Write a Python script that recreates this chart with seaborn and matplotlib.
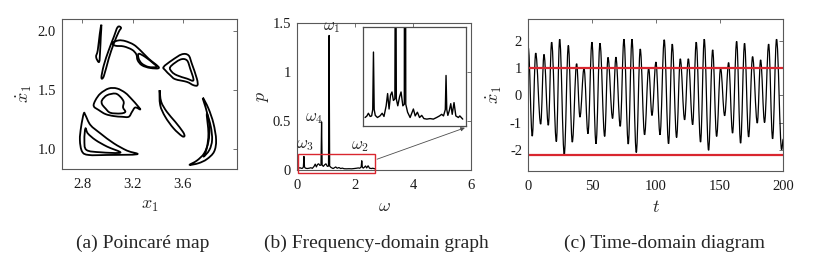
"""
Poincaré map / frequency-domain / time-domain figure
"""
import numpy as np
import pandas as pd
import matplotlib
matplotlib.use("Agg")
import matplotlib.pyplot as plt
import matplotlib.patches as mpatches
from matplotlib.path import Path
import seaborn as sns

# ──────────────────────────────────────────────
# Data
# ──────────────────────────────────────────────
# (a) Poincaré map – closed loops, (x1, x1dot) vertices
loop_sliver = [(2.953, 2.054), (2.940, 1.977), (2.924, 1.837), (2.911, 1.780),
               (2.935, 1.738), (2.943, 1.837), (2.948, 1.949)]
loop_stick = [(3.082, 2.034), (3.109, 2.028), (3.090, 1.992), (3.051, 1.893),
              (3.011, 1.766), (2.972, 1.617), (2.953, 1.606), (2.972, 1.710),
              (3.011, 1.837), (3.051, 1.949)]
loop_feather = [(3.038, 1.899), (3.090, 1.921), (3.143, 1.915), (3.209, 1.885),
                (3.262, 1.837), (3.328, 1.766), (3.410, 1.690), (3.341, 1.687),
                (3.275, 1.710), (3.241, 1.752), (3.230, 1.803), (3.196, 1.842),
                (3.130, 1.870), (3.064, 1.876)]
loop_feather_in = [(3.249, 1.808), (3.302, 1.780), (3.368, 1.724), (3.394, 1.696),
                   (3.328, 1.696), (3.275, 1.724), (3.249, 1.766)]
loop_tri = [(3.447, 1.696), (3.513, 1.752), (3.592, 1.803), (3.645, 1.794),
            (3.671, 1.724), (3.711, 1.597), (3.716, 1.541), (3.684, 1.541),
            (3.632, 1.569), (3.539, 1.592), (3.500, 1.625), (3.460, 1.668)]
loop_tri_in = [(3.500, 1.696), (3.579, 1.758), (3.632, 1.752), (3.658, 1.682),
               (3.684, 1.583), (3.632, 1.597), (3.553, 1.625), (3.513, 1.654)]
loop_mid = [(2.892, 1.363), (2.906, 1.414), (2.945, 1.470), (3.011, 1.513),
            (3.077, 1.513), (3.143, 1.476), (3.196, 1.420), (3.236, 1.372),
            (3.262, 1.335), (3.222, 1.352), (3.196, 1.315), (3.170, 1.273),
            (3.117, 1.273), (3.051, 1.279), (2.985, 1.296), (2.932, 1.330)]
loop_mid_in = [(2.958, 1.414), (2.998, 1.456), (3.064, 1.470), (3.104, 1.442),
               (3.130, 1.400), (3.125, 1.352), (3.143, 1.315), (3.104, 1.301),
               (3.024, 1.307), (2.985, 1.344), (2.958, 1.380)]
loop_corner = [(2.813, 1.301), (2.792, 1.189), (2.782, 1.076), (2.800, 0.977),
               (2.853, 0.949), (2.998, 0.949), (3.236, 0.955), (3.156, 0.986),
               (3.051, 1.048), (2.945, 1.132), (2.866, 1.203), (2.826, 1.287)]
loop_corner_in = [(2.826, 1.175), (2.818, 1.076), (2.834, 0.992), (2.945, 0.972),
                  (3.104, 0.969), (2.998, 1.020), (2.906, 1.076), (2.845, 1.132)]
loop_blade = [(3.415, 1.499), (3.428, 1.400), (3.473, 1.315), (3.539, 1.231),
              (3.600, 1.146), (3.613, 1.110), (3.592, 1.110), (3.526, 1.175),
              (3.460, 1.273), (3.420, 1.372)]
loop_moon = [(3.758, 1.434), (3.803, 1.344), (3.843, 1.217), (3.864, 1.076),
             (3.848, 0.977), (3.790, 0.913), (3.724, 0.879), (3.653, 0.865),
             (3.711, 0.901), (3.769, 0.963), (3.803, 1.062), (3.811, 1.189),
             (3.790, 1.315)]
loop_moon_in = [(3.790, 1.301), (3.822, 1.189), (3.832, 1.076), (3.811, 0.992),
                (3.764, 0.935), (3.790, 1.006), (3.803, 1.132)]
LOOPS = [loop_sliver, loop_stick, loop_feather, loop_feather_in, loop_tri,
         loop_tri_in, loop_mid, loop_mid_in, loop_corner, loop_corner_in,
         loop_blade, loop_moon, loop_moon_in]

# (b) amplitude spectrum
omega = [0.00, 0.05, 0.09, 0.14, 0.18, 0.21, 0.23, 0.25, 0.28, 0.34,
         0.41, 0.47, 0.52, 0.58, 0.62, 0.66, 0.70, 0.74, 0.78, 0.82,
         0.84, 0.86, 0.90, 0.95, 0.99, 1.04, 1.08, 1.10, 1.12, 1.17,
         1.24, 1.33, 1.38, 1.44, 1.50, 1.56, 1.62, 1.70, 1.79, 1.88,
         1.97, 2.05, 2.11, 2.16, 2.21, 2.23, 2.25, 2.28, 2.32, 2.36,
         2.40, 2.45, 2.50, 2.57, 2.61, 2.69]
power = [0.015, 0.018, 0.023, 0.017, 0.018, 0.030, 0.138, 0.030, 0.019, 0.015,
         0.018, 0.023, 0.017, 0.037, 0.060, 0.031, 0.057, 0.063, 0.047, 0.050,
         0.490, 0.050, 0.037, 0.054, 0.063, 0.037, 0.040, 1.370, 0.040, 0.025,
         0.015, 0.031, 0.018, 0.025, 0.015, 0.019, 0.013, 0.012, 0.013, 0.012,
         0.015, 0.018, 0.021, 0.018, 0.030, 0.094, 0.030, 0.019, 0.028, 0.041,
         0.021, 0.043, 0.018, 0.015, 0.018, 0.012]
peak_names = [r"$\omega_1$", r"$\omega_4$", r"$\omega_3$", r"$\omega_2$"]
peak_label_pos = [(1.17, 1.37), (0.58, 0.45), (0.26, 0.17), (2.18, 0.16)]

# (c) time history – successive extrema of x1dot
t_ext = [0.0, 3.1, 5.8, 9.7, 12.3, 15.7, 18.3, 22.0, 24.6, 28.2,
         31.4, 34.5, 37.9, 40.5, 43.7, 46.8, 49.9, 53.1, 56.2, 59.9,
         62.5, 66.1, 68.7, 72.1, 75.0, 78.4, 81.3, 84.7, 87.8, 91.2,
         94.4, 97.0, 100.1, 103.3, 106.6, 110.0, 112.9, 116.3, 119.2, 122.6,
         125.5, 128.9, 131.7, 135.1, 138.0, 141.4, 144.6, 147.7, 150.8, 154.0,
         157.1, 160.2, 163.4, 166.5, 169.6, 172.8, 175.9, 179.6, 182.2, 185.3,
         188.5, 191.6, 194.7, 198.7, 200.0]
x_ext = [1.74, -1.50, 1.55, -1.06, 1.50, -1.10, 1.95, -1.70, 2.06, -2.18,
         1.83, -1.72, 1.16, -0.80, 1.00, -1.41, 1.95, -1.78, 1.91, -1.51,
         1.39, -0.85, 1.40, -1.14, 2.06, -1.79, 2.06, -2.10, 1.70, -1.45,
         1.00, -0.74, 1.22, -1.45, 2.04, -1.78, 1.88, -1.55, 1.34, -0.90,
         1.34, -1.08, 1.95, -1.72, 2.06, -2.02, 1.67, -1.51, 1.00, -0.75,
         1.20, -1.39, 1.98, -1.76, 1.91, -1.53, 1.42, -1.02, 1.30, -1.00,
         1.88, -1.60, 2.06, -2.00, -1.60]
bound_hi = 1.02
bound_lo = -2.20

captions = ["(a) Poincaré map", "(b) Frequency-domain graph", "(c) Time-domain diagram"]

# ──────────────────────────────────────────────
# Style
# ──────────────────────────────────────────────
sns.set_theme(style="white")
plt.rcParams["font.family"] = ["Liberation Serif", "DejaVu Serif"]
plt.rcParams["mathtext.fontset"] = "cm"
plt.rcParams["axes.unicode_minus"] = False

EDGE = "0.35"
RED = "#d9262f"


def matlab_axes(ax):
    ax.tick_params(direction="in", top=True, right=True, length=3, width=0.6,
                   color=EDGE, labelcolor="0.1", labelsize=10.5)
    ax.tick_params(axis="x", pad=6.5)
    ax.tick_params(axis="y", pad=4.5)
    for s in ax.spines.values():
        s.set_color(EDGE)
        s.set_linewidth(0.8)
        s.set_visible(True)


def smooth_loop(points):
    # closed curve through the read vertices (Catmull-Rom drawn as Bezier)
    P = np.asarray(points, float)
    n = len(P)
    verts, codes = [P[0]], [Path.MOVETO]
    for i in range(n):
        p0, p1, p2, p3 = P[i - 1], P[i], P[(i + 1) % n], P[(i + 2) % n]
        verts += [p1 + (p2 - p0) / 6, p2 - (p3 - p1) / 6, p2]
        codes += [Path.CURVE4] * 3
    return Path(verts, codes)


def smooth_wave(t, v):
    # curve through successive extrema with flat tangents at each extremum
    verts, codes = [(t[0], v[0])], [Path.MOVETO]
    for i in range(len(t) - 1):
        dt = t[i + 1] - t[i]
        verts += [(t[i] + 0.364 * dt, v[i]), (t[i + 1] - 0.364 * dt, v[i + 1]),
                  (t[i + 1], v[i + 1])]
        codes += [Path.CURVE4] * 3
    return Path(verts, codes)


W, H = 835, 270
fig = plt.figure(figsize=(W / 100, H / 100), dpi=100)


def px_axes(left, top, right, bottom):
    return fig.add_axes([left / W, 1 - bottom / H, (right - left) / W, (bottom - top) / H])


# ── (a) Poincaré map ─────────────────────────
ax_a = px_axes(62, 19.3, 237, 169)
for loop in LOOPS:
    ax_a.add_patch(mpatches.PathPatch(smooth_loop(loop), fill=False,
                                      ec="black", lw=1.3, joinstyle="round"))
ax_a.set_xlim(2.64, 4.03)
ax_a.set_ylim(0.83, 2.10)
ax_a.set_xticks([2.8, 3.2, 3.6])
ax_a.set_yticks([1.0, 1.5, 2.0])
ax_a.set_xticklabels(["2.8", "3.2", "3.6"])
ax_a.set_yticklabels(["1.0", "1.5", "2.0"])
ax_a.set_xlabel(r"$x_1$", fontsize=13, labelpad=4)
ax_a.set_ylabel(r"$\dot{x}_1$", fontsize=13, labelpad=2)
matlab_axes(ax_a)

# ── (b) Frequency-domain graph ───────────────
ax_b = px_axes(297.3, 22.7, 470.7, 170)
spec = pd.DataFrame({"omega": omega, "p": power})
sns.lineplot(data=spec, x="omega", y="p", sort=False, estimator=None,
             color="black", lw=0.9, ax=ax_b)
ax_b.set_xlim(0, 6)
ax_b.set_ylim(0, 1.5)
ax_b.set_xticks([0, 2, 4, 6])
ax_b.set_yticks([0, 0.5, 1, 1.5])
ax_b.set_yticklabels(["0", "0.5", "1", "1.5"])
ax_b.set_xlabel(r"$\omega$", fontsize=13, labelpad=4)
ax_b.set_ylabel(r"$p$", fontsize=13, labelpad=1)
matlab_axes(ax_b)
for name, (px, py) in zip(peak_names, peak_label_pos):
    ax_b.text(px, py, name, fontsize=12, ha="center", va="bottom")
ax_b.add_patch(mpatches.Rectangle((0.03, -0.034), 2.66, 0.197, fill=False,
                                  ec=RED, lw=1.0, clip_on=False, zorder=5))
ax_b.annotate("", xy=(5.80, 0.43), xytext=(2.76, 0.11),
              arrowprops=dict(arrowstyle="-|>", color="0.3", lw=0.6,
                              mutation_scale=6, shrinkA=0, shrinkB=0))

ax_in = px_axes(363.3, 26.5, 466, 125.5)
sns.lineplot(data=spec, x="omega", y="p", sort=False, estimator=None,
             color="black", lw=1.0, ax=ax_in)
ax_in.set_xlim(-0.05, 2.78)
ax_in.set_ylim(0, 0.186)
ax_in.set_xticks([])
ax_in.set_yticks([])
ax_in.set_xlabel("")
ax_in.set_ylabel("")
for s in ax_in.spines.values():
    s.set_color("0.3")
    s.set_linewidth(0.9)

# ── (c) Time-domain diagram ──────────────────
ax_c = px_axes(528.3, 19.3, 783.3, 171)
ax_c.add_patch(mpatches.PathPatch(smooth_wave(t_ext, x_ext), fill=False,
                                  ec="black", lw=0.9))
ax_c.axhline(bound_hi, color=RED, lw=1.6)
ax_c.axhline(bound_lo, color=RED, lw=1.6)
ax_c.set_xlim(0, 200)
ax_c.set_ylim(-2.78, 2.79)
ax_c.set_xticks([0, 50, 100, 150, 200])
ax_c.set_yticks([-2, -1, 0, 1, 2])
ax_c.set_xlabel(r"$t$", fontsize=13, labelpad=4)
ax_c.set_ylabel(r"$\dot{x}_1$", fontsize=13, labelpad=4)
matlab_axes(ax_c)

# ── captions ─────────────────────────────────
for cx, text in zip([143, 376, 665], captions):
    fig.text(cx / W, 1 - 243 / H, text, ha="center", va="center", fontsize=14)

fig.savefig("out.png", dpi=100)
